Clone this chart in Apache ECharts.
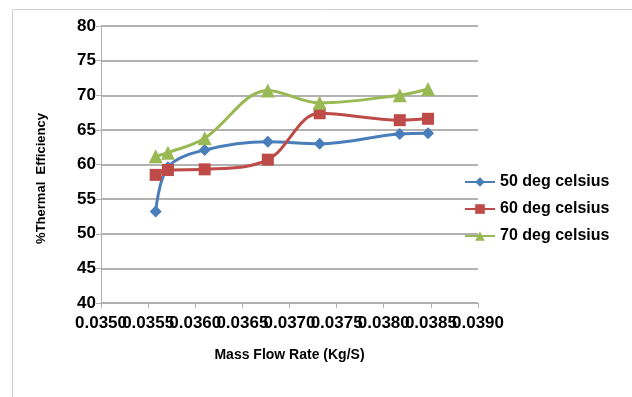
<!DOCTYPE html>
<html><head><meta charset="utf-8">
<script src="https://cdn.jsdelivr.net/npm/echarts@6/dist/echarts.min.js"></script>
<style>html,body{margin:0;padding:0;background:#fff}#c{width:632px;height:397px}</style>
</head><body><div id="c"></div>
<script>
const massFlow = [0.03558, 0.03571, 0.0361, 0.03677, 0.03732, 0.03817, 0.03847];
const eff50 = [53.2, 59.6, 62.1, 63.3, 63.0, 64.4, 64.5];
const eff60 = [58.5, 59.2, 59.3, 60.7, 67.4, 66.4, 66.6];
const eff70 = [61.2, 61.7, 63.8, 70.7, 68.9, 70.0, 70.9];
const xTicksA = [0.035, 0.036, 0.037, 0.038, 0.039];
const xTicksB = [0.0355, 0.0365, 0.0375, 0.0385];
const seriesNames = ['50 deg celsius', '60 deg celsius', '70 deg celsius'];
const colors = ['#4A7EBB', '#BE4B48', '#98B954'];
const symbols = ['diamond', 'rect', 'triangle'];
const font = 'Liberation Sans';
const chart = echarts.init(document.getElementById('c'));
const allData = [eff50, eff60, eff70];
const xLabel = (vals) => ({fontFamily:font, fontSize:17, fontWeight:'bold', color:'#000', margin:12,
  customValues: vals, formatter:v=>Number(v).toFixed(4), hideOverlap:false});
chart.setOption({
  animation: false,
  graphic: [{type:'rect', shape:{x:12.5,y:9.5,width:640,height:400}, style:{fill:'none', stroke:'#d0d0d0', lineWidth:1}, silent:true}],
  grid: {left:101, right:154, top:26, bottom:94},
  legend: {
    orient:'vertical', left:459, top:169, itemGap:11, itemWidth:30, itemHeight:12,
    textStyle:{fontFamily:font, fontSize:16, fontWeight:'bold', color:'#000'},
    data: seriesNames
  },
  xAxis: [{
    type:'value', min:0.035, max:0.039, interval:0.0005, position:'bottom',
    name:'Mass Flow Rate (Kg/S)', nameLocation:'middle', nameGap:45,
    nameTextStyle:{fontFamily:font, fontSize:14, fontWeight:'bold', color:'#000'},
    axisLine:{show:true, lineStyle:{color:'#b0b0b0', width:1}},
    axisTick:{show:true, length:5, lineStyle:{color:'#b0b0b0'}},
    splitLine:{show:false},
    axisLabel: xLabel(xTicksA)
  }, {
    type:'value', min:0.035, max:0.039, interval:0.0005, position:'bottom', offset:0,
    axisLine:{show:false}, axisTick:{show:false}, splitLine:{show:false},
    axisLabel: xLabel(xTicksB)
  }],
  yAxis: {
    type:'value', min:40, max:80, interval:5,
    name:'%Thermal  Efficiency', nameLocation:'middle', nameGap:53, nameRotate:90,
    nameTextStyle:{fontFamily:font, fontSize:13, fontWeight:'bold', color:'#000', padding:[0,28,0,0]},
    axisLine:{show:true, lineStyle:{color:'#b0b0b0', width:1}},
    axisTick:{show:true, length:5, lineStyle:{color:'#b0b0b0'}},
    splitLine:{show:true, lineStyle:{color:'#999', width:1.5}},
    axisLabel:{fontFamily:font, fontSize:17, fontWeight:'bold', color:'#000', margin:5}
  },
  series: allData.map((d,i)=>({
    name: seriesNames[i], type:'line', smooth:0.35, xAxisIndex:0,
    data: massFlow.map((x,j)=>[x,d[j]]),
    symbol: symbols[i], symbolSize: i===2?14:12,
    lineStyle:{color:colors[i], width:3},
    itemStyle:{color:colors[i]}
  }))
});
</script></body></html>
